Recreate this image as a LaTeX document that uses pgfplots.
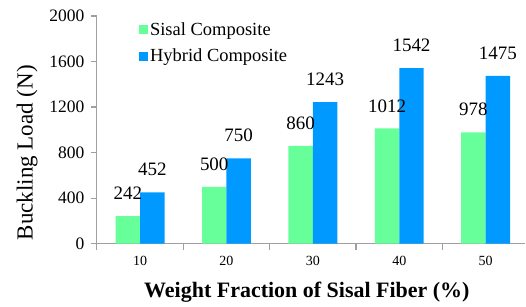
\documentclass[border=0pt]{standalone}
\usepackage{fontspec}
\setmainfont{Liberation Serif}
\usepackage{pgfplots}
\pgfplotsset{compat=1.18}
\definecolor{sisal}{HTML}{66FF99}
\definecolor{hybrid}{HTML}{0099FF}
\definecolor{axgray}{HTML}{A0A0A0}
\begin{document}
\begin{tikzpicture}
\begin{axis}[
  name=ax,
  scale only axis,
  width=429pt, height=228pt,
  xmin=-0.5, xmax=4.46,
  ymin=0, ymax=2000,
  ybar=0pt, bar width=24.5pt,
  axis x line*=bottom, axis y line*=left,
  axis line style={axgray, line width=1.2pt},
  every tick/.style={axgray, line width=1.2pt},
  tick align=outside, major tick length=6pt,
  xtick={-0.5,0.5,1.5,2.5,3.5},
  xticklabels={10,20,30,40,50},
  x tick label style={xshift=43.25pt, yshift=-3pt, font=\fontsize{14}{16}\selectfont},
  ytick={0,400,800,1200,1600,2000},
  y tick label style={xshift=-3pt, font=\fontsize{17.5}{20}\selectfont},
  /pgf/number format/assume math mode=true,
  /pgf/number format/1000 sep={},
  scaled y ticks=false,
  xlabel={\textbf{Weight Fraction of Sisal Fiber (\%)}},
  ylabel={Buckling Load (N)},
  x label style={at={(axis description cs:0.49,0)}, yshift=-49pt, anchor=center, font=\fontsize{22}{26}\selectfont},
  y label style={at={(axis description cs:-0.163,0.40)}, anchor=center, font=\fontsize{23}{27}\selectfont},
  nodes near coords,
  every node near coord/.append style={font=\fontsize{19}{22}\selectfont, anchor=south, inner sep=0pt, yshift=16pt, black},
  legend style={draw=none, fill=none, at={(axis description cs:0.098,0.98)}, anchor=north west,
    font=\fontsize{18.5}{21}\selectfont, row sep=8pt, inner sep=0pt,
    /tikz/every even column/.append style={column sep=0pt}},
  legend cell align=left,
  legend image code/.code={\fill[#1] (0pt,-4.5pt) rectangle (9pt,4.5pt);},
  clip=false,
]
\addplot[fill=sisal, draw=none] coordinates {(0,242) (1,500) (2,860) (3,1012) (4,978)};
\addplot[fill=hybrid, draw=none] coordinates {(0,452) (1,750) (2,1243) (3,1542) (4,1475)};
\legend{Sisal Composite, Hybrid Composite}
\end{axis}
\path ([xshift=-97pt,yshift=-59pt]ax.south west) rectangle ([xshift=429pt,yshift=244pt]ax.south west);
\end{tikzpicture}
\end{document}
